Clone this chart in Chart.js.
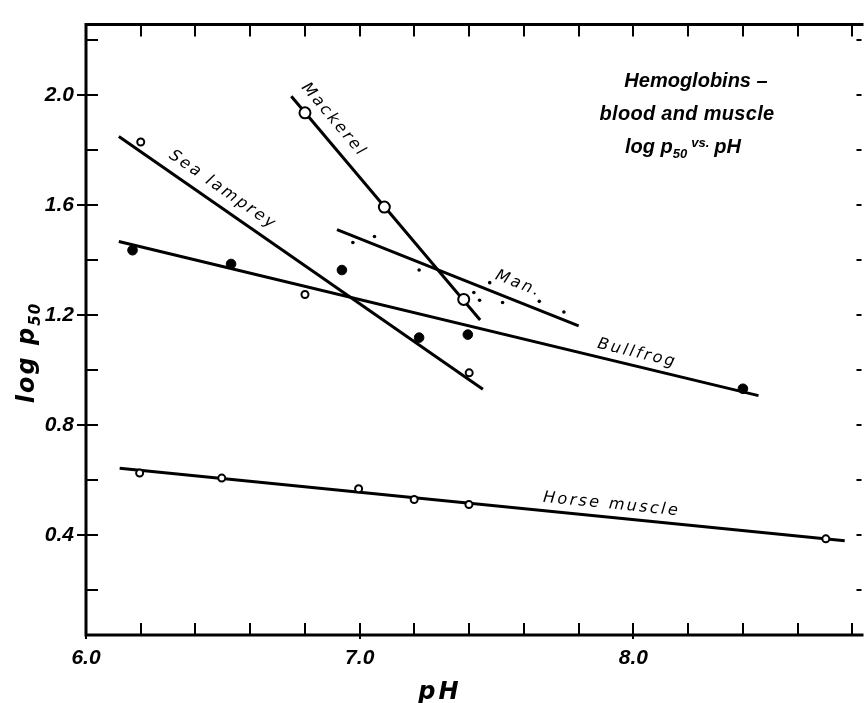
<!DOCTYPE html>
<html>
<head>
<meta charset="utf-8">
<script src="https://cdn.jsdelivr.net/npm/chart.js@4"></script>
<style>
  html, body { margin: 0; padding: 0; background: #fff; }
</style>
</head>
<body>
<canvas id="chart" width="867" height="703"></canvas>
<script>
// Values: pH (x) and log p50 (y)

// Sea lamprey, open circles
const lampreyPH = [6.2, 6.8, 7.4];
const lampreyLogP = [1.83, 1.275, 0.99];
const lampreyFitPH = [6.12, 7.45];
const lampreyFitLogP = [1.85, 0.93];

// Mackerel, large open circles
const mackerelPH = [6.8, 7.09, 7.38];
const mackerelLogP = [1.936, 1.593, 1.257];
const mackerelFitPH = [6.75, 7.44];
const mackerelFitLogP = [1.996, 1.182];

// Bullfrog, filled circles
const bullfrogPH = [6.17, 6.53, 6.935, 7.217, 7.395, 8.4];
const bullfrogLogP = [1.436, 1.386, 1.364, 1.118, 1.129, 0.932];
const bullfrogFitPH = [6.12, 8.457];
const bullfrogFitLogP = [1.468, 0.907];

// Man, small dots
const manPH = [6.975, 7.054, 7.217, 7.417, 7.438, 7.475, 7.522, 7.656, 7.746];
const manLogP = [1.464, 1.486, 1.364, 1.282, 1.254, 1.318, 1.246, 1.25, 1.211];
const manFitPH = [6.917, 7.8];
const manFitLogP = [1.511, 1.161];

// Horse muscle, open circles
const horsePH = [6.196, 6.496, 6.996, 7.199, 7.399, 8.703];
const horseLogP = [0.625, 0.607, 0.568, 0.529, 0.511, 0.386];
const horseFitPH = [6.123, 8.772];
const horseFitLogP = [0.643, 0.379];

// Axes
const xTickValues = [6.0, 6.2, 6.4, 6.6, 6.8, 7.0, 7.2, 7.4, 7.6, 7.8, 8.0, 8.2, 8.4, 8.6, 8.8];
const xTickLabels = ['6.0', '7.0', '8.0'];
const yTickValues = [0.2, 0.4, 0.6, 0.8, 1.0, 1.2, 1.4, 1.6, 1.8, 2.0, 2.2];
const yTickLabels = ['0.4', '0.8', '1.2', '1.6', '2.0'];

// Curve names, placed at (pH, log p50), angled along their fit line
const curveNames = ['Sea lamprey', 'Mackerel', 'Man.', 'Bullfrog', 'Horse muscle'];
const curveNamePH = [6.5, 6.905, 7.58, 8.014, 7.92];
const curveNameLogP = [1.655, 1.91, 1.314, 1.061, 0.511];

const toXY = (xs, ys) => xs.map((x, i) => ({ x: x, y: ys[i] }));

const fits = [
  toXY(lampreyFitPH, lampreyFitLogP),
  toXY(mackerelFitPH, mackerelFitLogP),
  toXY(manFitPH, manFitLogP),
  toXY(bullfrogFitPH, bullfrogFitLogP),
  toXY(horseFitPH, horseFitLogP)
];

function pointSet(data, radius, filled, border) {
  return {
    type: 'scatter',
    data: data,
    showLine: false,
    pointRadius: radius,
    pointBorderWidth: border,
    pointBorderColor: '#000',
    pointBackgroundColor: filled ? '#000' : '#fff',
    order: 0
  };
}

function fitSet(data) {
  return {
    type: 'line',
    data: data,
    showLine: true,
    borderColor: '#000',
    borderWidth: 3,
    pointRadius: 0,
    fill: false,
    order: 1
  };
}

// draw a row of text pieces (for subscripts), centred at x
function drawRuns(ctx, x, y, runs) {
  let total = 0;
  runs.forEach(r => {
    ctx.font = r.font;
    ctx.letterSpacing = r.spacing || '0px';
    r.w = ctx.measureText(r.t).width + (r.gap || 0);
    total += r.w;
  });
  let cx = x - total / 2;
  runs.forEach(r => {
    ctx.font = r.font;
    ctx.letterSpacing = r.spacing || '0px';
    ctx.fillText(r.t, cx, y + (r.dy || 0));
    cx += r.w;
  });
  ctx.letterSpacing = '0px';
}

const decorations = {
  id: 'decorations',
  afterDraw(chart) {
    const { ctx, chartArea: a, scales: { x, y } } = chart;
    ctx.save();
    ctx.strokeStyle = '#000';
    ctx.fillStyle = '#000';

    // frame (right side runs off the picture)
    ctx.lineWidth = 3;
    ctx.beginPath();
    ctx.moveTo(a.right + 4, a.top);
    ctx.lineTo(a.left, a.top);
    ctx.lineTo(a.left, a.bottom);
    ctx.lineTo(a.right + 4, a.bottom);
    ctx.stroke();

    // inward ticks on all sides
    ctx.lineWidth = 2;
    ctx.beginPath();
    x.ticks.forEach(t => {
      const px = Math.round(x.getPixelForValue(t.value));
      const labeled = xTickLabels.includes(t.value.toFixed(1));
      ctx.moveTo(px, a.top);
      ctx.lineTo(px, a.top + 12);
      ctx.moveTo(px, a.bottom - 12);
      ctx.lineTo(px, a.bottom + (labeled ? 4 : 0));
    });
    y.ticks.forEach(t => {
      const py = Math.round(y.getPixelForValue(t.value));
      const labeled = yTickLabels.includes(t.value.toFixed(1));
      ctx.moveTo(a.left - (labeled ? 9 : 0), py);
      ctx.lineTo(a.left + 12, py);
      ctx.moveTo(a.right - 3, py);
      ctx.lineTo(a.right + 2, py);
    });
    ctx.stroke();

    // curve names along the fit lines
    ctx.textBaseline = 'middle';
    curveNames.forEach((name, i) => {
      const f = fits[i];
      const x0 = x.getPixelForValue(f[0].x), y0 = y.getPixelForValue(f[0].y);
      const x1 = x.getPixelForValue(f[1].x), y1 = y.getPixelForValue(f[1].y);
      const ang = Math.atan2(y1 - y0, x1 - x0);
      ctx.save();
      ctx.translate(x.getPixelForValue(curveNamePH[i]), y.getPixelForValue(curveNameLogP[i]));
      ctx.rotate(ang);
      ctx.font = 'oblique 500 16px "DejaVu Sans"';
      ctx.letterSpacing = '2.4px';
      ctx.textAlign = 'center';
      ctx.fillText(name, 0, 0);
      ctx.restore();
    });

    // title block
    ctx.textAlign = 'left';
    ctx.textBaseline = 'alphabetic';
    const tf = 'italic bold 20px "Liberation Sans"';
    const sf = 'italic bold 13px "Liberation Sans"';
    drawRuns(ctx, 696, 87, [{ t: 'Hemoglobins \u2013', font: tf }]);
    drawRuns(ctx, 687, 120, [{ t: 'blood and muscle', font: tf, spacing: '0.3px' }]);
    drawRuns(ctx, 683, 153, [
      { t: 'log p', font: tf },
      { t: '50', font: sf, dy: 5, gap: 4 },
      { t: 'vs.', font: sf, dy: -6, gap: 5 },
      { t: 'pH', font: tf }
    ]);

    // axis titles
    const af = 'oblique bold 24px "DejaVu Sans"';
    const asf = 'oblique bold 15px "DejaVu Sans"';
    drawRuns(ctx, 440, 699, [{ t: 'pH', font: af, spacing: '3px' }]);
    ctx.save();
    ctx.translate(34, 353);
    ctx.rotate(-Math.PI / 2);
    drawRuns(ctx, 0, 0, [
      { t: 'log p', font: af, spacing: '2px' },
      { t: '50', font: asf, dy: 6, spacing: '1px' }
    ]);
    ctx.restore();

    ctx.restore();
  }
};

const tickFont = { family: '"Liberation Sans"', size: 21, weight: 'bold', style: 'italic' };

new Chart(document.getElementById('chart'), {
  type: 'scatter',
  data: {
    datasets: [
      pointSet(toXY(lampreyPH, lampreyLogP), 3.5, false, 2),
      pointSet(toXY(mackerelPH, mackerelLogP), 5.5, false, 2),
      pointSet(toXY(bullfrogPH, bullfrogLogP), 4.8, true, 1),
      pointSet(toXY(manPH, manLogP), 1.8, true, 0),
      pointSet(toXY(horsePH, horseLogP), 3.5, false, 2),
      fitSet(fits[0]),
      fitSet(fits[1]),
      fitSet(fits[2]),
      fitSet(fits[3]),
      fitSet(fits[4])
    ]
  },
  options: {
    responsive: false,
    devicePixelRatio: 1,
    animation: false,
    layout: { padding: { top: 13, right: 1, left: 0, bottom: 0 } },
    plugins: { legend: { display: false }, tooltip: { enabled: false } },
    scales: {
      x: {
        type: 'linear',
        min: 6.0,
        max: 8.826,
        border: { display: false },
        grid: { display: false, drawTicks: false },
        afterBuildTicks: s => { s.ticks = xTickValues.map(v => ({ value: v })); },
        afterFit: s => { s.height = 68; },
        ticks: {
          autoSkip: false,
          maxRotation: 0,
          padding: 11,
          color: '#000',
          font: tickFont,
          callback: v => (xTickLabels.includes(v.toFixed(1)) ? v.toFixed(1) : '')
        }
      },
      y: {
        type: 'linear',
        min: 0.036,
        max: 2.257,
        border: { display: false },
        grid: { display: false, drawTicks: false },
        afterBuildTicks: s => { s.ticks = yTickValues.map(v => ({ value: v })); },
        afterFit: s => { s.width = 86; },
        ticks: {
          autoSkip: false,
          padding: 12,
          color: '#000',
          font: tickFont,
          callback: v => (yTickLabels.includes(v.toFixed(1)) ? v.toFixed(1) : '')
        }
      }
    }
  },
  plugins: [decorations]
});
</script>
</body>
</html>
